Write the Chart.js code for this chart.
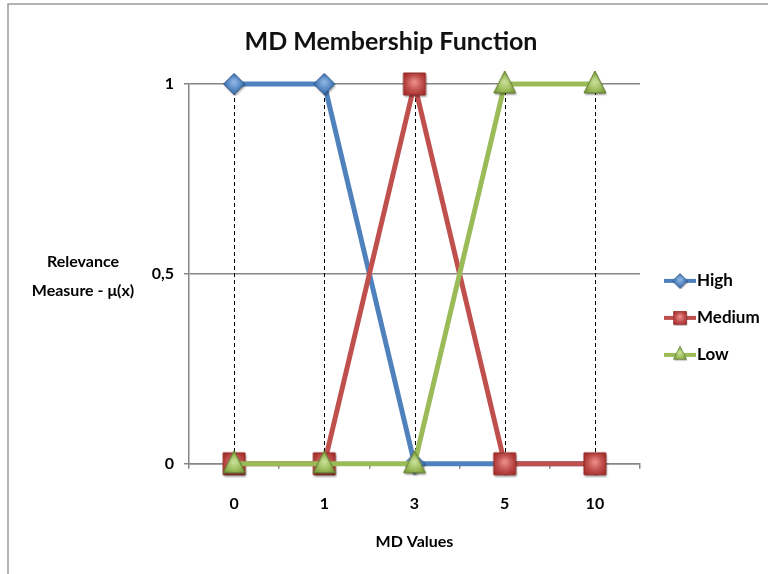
<!DOCTYPE html>
<html>
<head>
<meta charset="utf-8">
<title>MD Membership Function</title>
<script src="https://cdn.jsdelivr.net/npm/chart.js@4"></script>
<style>
  html, body { margin: 0; padding: 0; background: #ffffff; }
  #wrap { width: 768px; height: 574px; }
</style>
</head>
<body>
<div id="wrap"><canvas id="chart" width="768" height="574"></canvas></div>
<script>
// Membership degrees per MD value
const categories = ['0', '1', '3', '5', '10'];
const high = [1, 1, 0, 0, 0];
const medium = [0, 0, 1, 0, 0];
const low = [0, 0, 0, 1, 1];
const seriesNames = ['High', 'Medium', 'Low'];
const yTickLabels = { 0: '0', 0.5: '0,5', 1: '1' };
const chartTitle = 'MD Membership Function';
const xTitle = 'MD Values';
const yTitleLines = ['Relevance', 'Measure - \u03BC(x)'];

const FONT = 'Lato, "Open Sans", sans-serif';
const GRID = '#868686';

const palette = {
  High:   { line: '#4F81BD', light: '#8DB3E2', dark: '#2F5F9A', edge: '#2A5288' },
  Medium: { line: '#C0504D', light: '#EA8B88', dark: '#A8302C', edge: '#8E2A27' },
  Low:    { line: '#9BBB59', light: '#C6DD95', dark: '#76963A', edge: '#5F7A2E' }
};

// Shaded marker sprites used for the points and the legend
function makeMarker(shape, c) {
  const s = shape === 'diamond' ? 24 : 28;
  const cv = document.createElement('canvas');
  cv.width = s; cv.height = s;
  const g = cv.getContext('2d');
  const m = s / 2;
  const path = () => {
    g.beginPath();
    if (shape === 'diamond') {
      g.moveTo(m, m - 10.5); g.lineTo(m + 10.5, m); g.lineTo(m, m + 10.5); g.lineTo(m - 10.5, m);
    } else if (shape === 'square') {
      g.rect(m - 11, m - 11, 22, 22);
    } else {
      g.moveTo(m, m - 13); g.lineTo(m + 11, m + 9); g.lineTo(m - 11, m + 9);
    }
    g.closePath();
  };
  g.save();
  g.shadowColor = 'rgba(0,0,0,0.35)';
  g.shadowOffsetX = 1; g.shadowOffsetY = 2; g.shadowBlur = 2;
  path();
  g.fillStyle = c.line;
  g.fill();
  g.restore();
  const grad = g.createRadialGradient(m, m - 2, 1, m, m, 13);
  grad.addColorStop(0, c.light);
  grad.addColorStop(0.55, c.line);
  grad.addColorStop(1, c.dark);
  path();
  g.fillStyle = grad;
  g.fill();
  g.lineWidth = 1;
  g.strokeStyle = c.edge;
  g.stroke();
  return cv;
}

const markers = {
  High: makeMarker('diamond', palette.High),
  Medium: makeMarker('square', palette.Medium),
  Low: makeMarker('triangle', palette.Low)
};

function series(name, data, order) {
  return {
    label: name,
    data: data,
    order: order,
    clip: false,
    borderColor: palette[name].line,
    backgroundColor: palette[name].line,
    borderWidth: 5,
    tension: 0,
    fill: false,
    pointStyle: markers[name],
    pointRadius: 11,
    pointHoverRadius: 11
  };
}

// Frame around the figure and the centred title
const framePlugin = {
  id: 'frame',
  beforeDraw(chart) {
    const ctx = chart.ctx;
    ctx.save();
    ctx.fillStyle = '#ffffff';
    ctx.fillRect(0, 0, chart.width, chart.height);
    ctx.strokeStyle = '#9a9a9a';
    ctx.lineWidth = 1.5;
    ctx.beginPath();
    ctx.moveTo(8, chart.height + 2);
    ctx.lineTo(8, 4);
    ctx.lineTo(chart.width + 2, 4);
    ctx.stroke();

    ctx.fillStyle = '#111111';
    ctx.font = 'bold 25px ' + FONT;
    ctx.textAlign = 'center';
    ctx.textBaseline = 'middle';
    ctx.fillText(chartTitle, chart.width / 2 + 7, 42);
    ctx.restore();
  }
};

// Dashed drop lines from the highest point of each category down to the axis
const dropLinePlugin = {
  id: 'dropLines',
  beforeDatasetsDraw(chart) {
    const { ctx, scales: { x, y } } = chart;
    ctx.save();
    ctx.strokeStyle = '#000000';
    ctx.lineWidth = 1;
    ctx.setLineDash([4, 3]);
    categories.forEach((cat, i) => {
      const top = Math.max(...chart.data.datasets.map(d => d.data[i]));
      const px = Math.round(x.getPixelForValue(i)) + 0.5;
      ctx.beginPath();
      ctx.moveTo(px, y.getPixelForValue(top));
      ctx.lineTo(px, y.getPixelForValue(0));
      ctx.stroke();
    });
    ctx.restore();
  }
};

// Axis titles (y title is horizontal, on two lines) and the side legend
const sideTextPlugin = {
  id: 'sideText',
  afterDraw(chart) {
    const { ctx, chartArea } = chart;
    ctx.save();
    ctx.fillStyle = '#000000';
    ctx.font = 'bold 16px ' + FONT;
    ctx.textAlign = 'center';
    ctx.textBaseline = 'middle';
    const cy = (chartArea.top + chartArea.bottom) / 2;
    ctx.fillText(yTitleLines[0], chartArea.left - 106, cy - 12);
    ctx.fillText(yTitleLines[1], chartArea.left - 106, cy + 17);
    ctx.fillText(xTitle, (chartArea.left + chartArea.right) / 2, chartArea.bottom + 78);

    // legend
    const lx = chartArea.right + 24;
    const y0 = cy + 7;
    seriesNames.forEach((name, i) => {
      const yy = y0 + i * 37;
      ctx.strokeStyle = palette[name].line;
      ctx.lineWidth = 4;
      ctx.beginPath();
      ctx.moveTo(lx, yy);
      ctx.lineTo(lx + 32, yy);
      ctx.stroke();
      const img = markers[name];
      const scale = name === 'High' ? 0.7 : 0.6;
      const w = img.width * scale, h = img.height * scale;
      ctx.drawImage(img, lx + 16 - w / 2, yy - h / 2 - (name === 'Low' ? 1 : 0), w, h);
      ctx.fillStyle = '#000000';
      ctx.font = 'bold 17px ' + FONT;
      ctx.textAlign = 'left';
      ctx.fillText(name, lx + 33, yy);
    });
    ctx.restore();
  }
};

new Chart(document.getElementById('chart'), {
  type: 'line',
  data: {
    labels: categories,
    datasets: [
      series('High', high, 2),
      series('Medium', medium, 1),
      series('Low', low, 0)
    ]
  },
  options: {
    responsive: false,
    animation: false,
    events: [],
    layout: { padding: { left: 0, right: 128, top: 84, bottom: 36 } },
    plugins: {
      legend: { display: false },
      tooltip: { enabled: false },
      title: { display: false }
    },
    scales: {
      x: {
        type: 'category',
        offset: true,
        grid: {
          offset: true,
          drawOnChartArea: false,
          drawTicks: true,
          tickLength: 5,
          color: GRID,
          lineWidth: 1.5
        },
        border: { color: GRID, width: 1.5 },
        ticks: {
          color: '#000000',
          padding: 25,
          font: { family: FONT, size: 16, weight: 'bold' }
        }
      },
      y: {
        min: 0,
        max: 1,
        afterFit(scale) { scale.width = 189; },
        grid: {
          color: GRID,
          lineWidth: 1.5,
          drawTicks: true,
          tickLength: 5
        },
        border: { color: GRID, width: 1.5 },
        ticks: {
          stepSize: 0.5,
          padding: 10,
          color: '#000000',
          font: { family: FONT, size: 16, weight: 'bold' },
          callback: (v) => yTickLabels[v] !== undefined ? yTickLabels[v] : ''
        }
      }
    }
  },
  plugins: [framePlugin, dropLinePlugin, sideTextPlugin]
});
</script>
</body>
</html>
